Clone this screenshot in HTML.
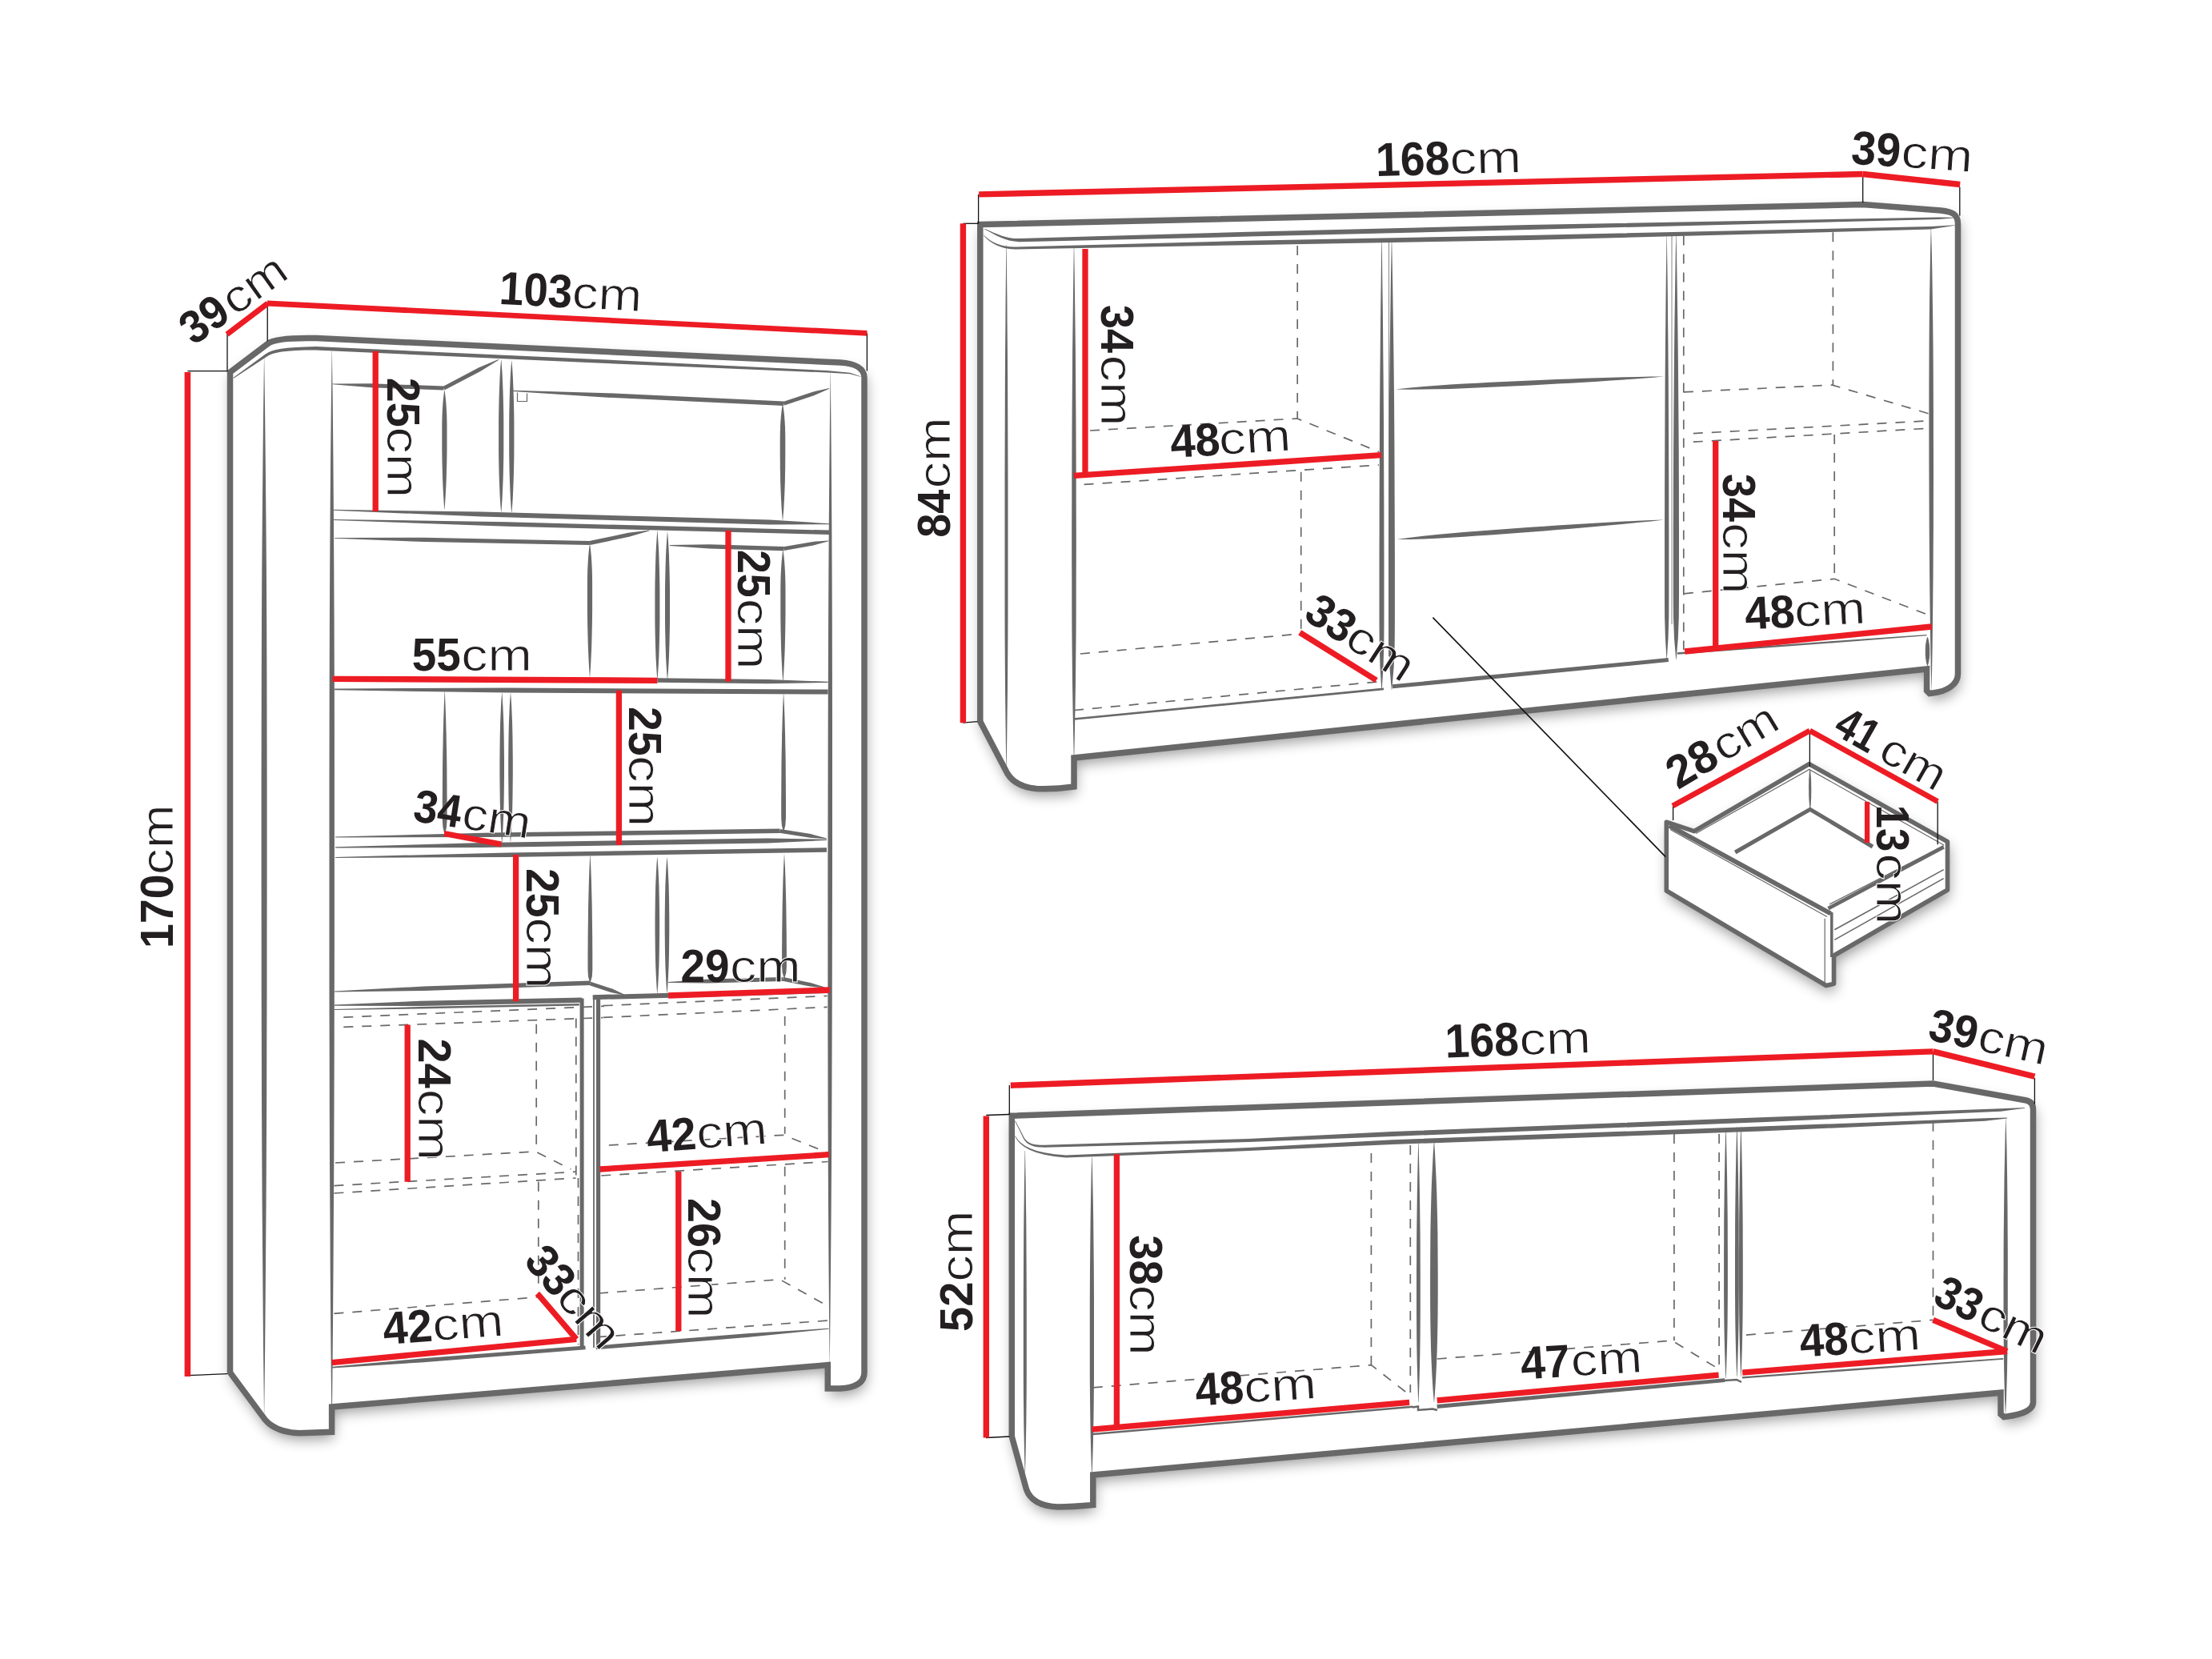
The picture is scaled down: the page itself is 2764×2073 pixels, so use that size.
<!DOCTYPE html>
<html><head><meta charset="utf-8"><title>Furniture dimensions</title>
<style>
html,body{margin:0;padding:0;background:#fff;}
body{width:2764px;height:2073px;overflow:hidden;}
svg{display:block;font-family:"Liberation Sans",sans-serif;}
text{fill:#231f20;}
</style></head><body>
<svg xmlns="http://www.w3.org/2000/svg" width="2764" height="2073" viewBox="0 0 2764 2073">
<defs><filter id="sh" x="-20%" y="-20%" width="140%" height="140%"><feGaussianBlur stdDeviation="8.5"/></filter><filter id="thin" x="-5%" y="-5%" width="110%" height="110%"><feMorphology operator="erode" radius="0.6"/></filter></defs>
<rect width="2764" height="2073" fill="#fff"/>
<path d="M 287.5 1715 L 287.5 465 L 334.6 429.4 C 342 424 365 422 395 422.6 L 1050 453 C 1068 454 1080 460 1080 472 L 1080 1715 C 1080 1728 1068 1734 1050 1735 L 1034.3 1735 L 1034.3 1705.6 L 414.6 1758 L 414.6 1789.3 L 374 1790.8 C 355 1790 340 1784 331.6 1774.4 Z" fill="#000" opacity="0.4" filter="url(#sh)" transform="translate(2,8)"/>
<path d="M 287.5 1715 L 287.5 465 L 334.6 429.4 C 342 424 365 422 395 422.6 L 1050 453 C 1068 454 1080 460 1080 472 L 1080 1715 C 1080 1728 1068 1734 1050 1735 L 1034.3 1735 L 1034.3 1705.6 L 414.6 1758 L 414.6 1789.3 L 374 1790.8 C 355 1790 340 1784 331.6 1774.4 Z" fill="#fff"/>
<polygon points="330,447 329.1,513 328.4,578.9 327.8,644.9 327.3,710.8 327,776.8 326.8,842.7 326.7,908.6 326.6,974.6 326.6,1040.6 326.6,1106.5 326.7,1172.5 326.7,1238.4 326.9,1304.3 327,1370.3 327.3,1436.2 327.6,1502.2 328.1,1568.1 328.6,1634.1 329.2,1700 330,1766 330.2,1766 331,1700 331.6,1634.1 332.1,1568.1 332.6,1502.2 332.9,1436.2 333.2,1370.3 333.3,1304.3 333.5,1238.4 333.5,1172.5 333.6,1106.5 333.6,1040.6 333.6,974.6 333.5,908.6 333.4,842.7 333.2,776.8 332.9,710.8 332.4,644.9 331.8,578.9 331.1,513 330.2,447" fill="#686868"/>
<polygon points="414.7,438 413.8,505.6 413.1,573.2 412.6,640.8 412.2,708.4 411.9,776 411.7,843.6 411.6,911.2 411.5,978.8 411.5,1046.4 411.5,1114 411.5,1181.6 411.5,1249.2 411.7,1316.8 411.8,1384.4 412,1452 412.4,1519.6 412.7,1587.2 413.2,1654.8 413.8,1722.4 414.5,1790 414.7,1790 415.4,1722.4 416,1654.8 416.5,1587.2 416.9,1519.6 417.3,1452 417.5,1384.4 417.7,1316.8 417.8,1249.2 417.9,1181.6 417.9,1114 417.9,1046.4 417.9,978.8 417.9,911.2 417.8,843.6 417.6,776 417.3,708.4 416.9,640.8 416.4,573.2 415.8,505.6 414.9,438" fill="#686868"/>
<polygon points="1037.6,466 1036.9,527.8 1036.3,589.6 1035.8,651.4 1035.4,713.2 1035.1,775 1034.9,836.8 1034.7,898.6 1034.6,960.4 1034.5,1022.2 1034.4,1084 1034.4,1145.8 1034.4,1207.6 1034.4,1269.4 1034.5,1331.2 1034.6,1393 1034.8,1454.8 1035.1,1516.6 1035.5,1578.4 1036,1640.2 1036.6,1702 1036.8,1702 1037.5,1640.2 1038.1,1578.4 1038.6,1516.6 1039,1454.8 1039.3,1393 1039.5,1331.2 1039.7,1269.4 1039.8,1207.6 1039.9,1145.8 1040,1084 1040,1022.2 1040,960.4 1040,898.6 1039.9,836.8 1039.8,775 1039.6,713.2 1039.3,651.4 1038.9,589.6 1038.4,527.8 1037.8,466" fill="#686868"/>
<polygon points="292,472.7 334,445.3 337,443.6 340.8,442.1 345.8,440.7 352.1,439.6 359.9,438.7 369.5,438 381.1,437.6 394.7,437.5 739.9,453.3 1032.9,465.5 1061.9,467.2 1075.2,470.8 1075.4,470.2 1062.1,465.8 1033.1,463.1 740.1,448.7 394.9,433.1 381,433.4 369.3,433.9 359.5,434.7 351.5,435.7 344.9,436.9 339.6,438.5 335.4,440.3 332,442.3 291.4,471.9" fill="#686868"/>
<polygon points="416.3,637.8 602.2,645.5 961.7,655.6 1036.2,655.2 1036.2,654.2 961.9,649.6 602.4,639.5 416.3,636.8" fill="#686868"/>
<polygon points="417,650.1 633.7,657.7 1036.1,668 1036.3,662.6 633.8,652.3 417,648.9" fill="#686868"/>
<polygon points="821.4,852.7 959.9,854.3 1034.6,853 1034.6,851.8 960,848.9 821.4,847.3" fill="#686868"/>
<polygon points="418,862.3 633.8,865.5 1034.6,867.6 1034.6,861.6 633.8,859.5 418,860.5" fill="#686868"/>
<polygon points="419,1059.5 603.2,1059 959.4,1053.5 1033,1050 1033,1048.8 959.3,1047.5 603.2,1053.1 419,1058.3" fill="#686868"/>
<polygon points="419,1072.1 633.9,1070.9 1033,1064.7 1033,1059.3 633.9,1065.5 419,1070.9" fill="#686868"/>
<polygon points="415.5,480.3 464.1,484.2 554.5,487.6 554.7,482.6 464.3,479.2 415.5,479.5" fill="#686868"/>
<polygon points="555.8,487.3 600.2,464.1 623.2,449.7 622.8,448.9 597.9,459.6 553.4,482.9" fill="#686868"/>
<polygon points="555.2,487.5 554.3,494.9 553.5,502.4 553,509.9 552.6,517.3 552.4,524.8 552.3,532.2 552.3,539.6 552.3,547.1 552.3,554.5 552.3,562 552.4,569.5 552.5,576.9 552.7,584.4 552.9,591.8 553.1,599.2 553.4,606.7 553.8,614.1 554.2,621.6 554.7,629 555.2,636.5 555.5,636.5 556.1,629 556.6,621.6 557,614.1 557.4,606.7 557.7,599.2 557.9,591.8 558.1,584.4 558.3,576.9 558.4,569.5 558.5,562 558.5,554.5 558.5,547.1 558.5,539.6 558.5,532.2 558.4,524.8 558.2,517.3 557.8,509.9 557.3,502.4 556.5,494.9 555.5,487.5" fill="#686868"/>
<polygon points="626.1,450 625.3,459.5 624.7,469 624.3,478.5 623.9,487.9 623.6,497.4 623.4,506.9 623.2,516.4 623.1,525.9 623.1,535.4 623.1,544.9 623.1,554.3 623.1,563.8 623.2,573.3 623.4,582.8 623.6,592.3 623.9,601.8 624.3,611.2 624.7,620.7 625.3,630.2 626.1,639.7 626.4,639.7 627.1,630.2 627.7,620.7 628.1,611.2 628.5,601.8 628.8,592.3 629,582.8 629.2,573.3 629.3,563.8 629.3,554.3 629.3,544.9 629.3,535.4 629.3,525.9 629.2,516.4 629,506.9 628.8,497.4 628.5,487.9 628.1,478.5 627.7,469 627.1,459.5 626.4,450" fill="#686868"/>
<polygon points="639.1,451 638.4,460.5 637.8,469.9 637.4,479.4 637,488.9 636.7,498.4 636.5,507.9 636.3,517.3 636.2,526.8 636.2,536.3 636.2,545.8 636.2,555.2 636.2,564.7 636.3,574.2 636.5,583.6 636.7,593.1 637,602.6 637.4,612.1 637.8,621.5 638.4,631 639.1,640.5 639.4,640.5 640.2,631 640.8,621.5 641.2,612.1 641.6,602.6 641.9,593.1 642.1,583.6 642.3,574.2 642.4,564.7 642.4,555.2 642.4,545.8 642.4,536.3 642.4,526.8 642.3,517.3 642.1,507.9 641.9,498.4 641.6,488.9 641.2,479.4 640.8,469.9 640.2,460.5 639.4,451" fill="#686868"/>
<polygon points="640.9,489 759.2,496.7 979.2,507 979.4,501.4 759.5,491.2 640.9,487.8" fill="#686868"/>
<polygon points="980.1,506.5 1017,494.3 1036.3,485.7 1036.1,485.1 1015.5,489.7 978.5,501.9" fill="#686868"/>
<polygon points="977.9,504.5 976.8,511.8 976,519.1 975.4,526.4 975,533.7 974.8,541 974.7,548.3 974.7,555.6 974.7,562.9 974.7,570.2 974.8,577.5 974.8,584.9 975,592.2 975.1,599.5 975.3,606.8 975.6,614.1 975.9,621.4 976.3,628.7 976.7,636 977.3,643.3 977.9,650.6 978.1,650.6 978.7,643.3 979.3,636 979.7,628.7 980.1,621.4 980.4,614.1 980.7,606.8 980.9,599.5 981,592.2 981.2,584.9 981.2,577.5 981.3,570.2 981.3,562.9 981.3,555.6 981.3,548.3 981.2,541 981,533.7 980.6,526.4 980,519.1 979.2,511.8 978.1,504.5" fill="#686868"/>
<polyline points="646.5,490.5 646.5,501.5 658.5,501.5 658.5,491.5" fill="none" stroke="#686868" stroke-width="1.2" stroke-linejoin="miter"/>
<polygon points="418,672.7 529.6,677.1 736.9,681.1 737.1,675.9 529.7,671.8 418,671.9" fill="#686868"/>
<polygon points="737.5,681 786,670.8 811.7,663.2 811.5,662.4 785,665.8 736.5,676" fill="#686868"/>
<polygon points="736.9,679 735.9,687.4 735.1,695.7 734.6,704 734.2,712.4 734,720.8 733.9,729.1 733.9,737.5 733.9,745.8 733.9,754.1 733.9,762.5 734,770.9 734.1,779.2 734.3,787.5 734.5,795.9 734.7,804.2 735,812.6 735.4,821 735.8,829.3 736.3,837.6 736.9,846 737.1,846 737.7,837.6 738.2,829.3 738.6,821 739,812.6 739.3,804.2 739.5,795.9 739.7,787.5 739.9,779.2 740,770.9 740.1,762.5 740.1,754.1 740.1,745.8 740.1,737.5 740.1,729.1 740,720.8 739.8,712.4 739.4,704 738.9,695.7 738.1,687.4 737.1,679" fill="#686868"/>
<polygon points="821.2,663.6 820.6,672.9 820,682.1 819.5,691.4 819.2,700.7 818.9,710 818.7,719.2 818.5,728.5 818.4,737.8 818.4,747 818.4,756.3 818.4,765.6 818.4,774.8 818.5,784.1 818.7,793.4 818.9,802.6 819.2,811.9 819.5,821.2 820,830.5 820.6,839.7 821.2,849 821.5,849 822.2,839.7 822.8,830.5 823.3,821.2 823.6,811.9 823.9,802.6 824.1,793.4 824.3,784.1 824.4,774.8 824.4,765.6 824.4,756.3 824.4,747 824.4,737.8 824.3,728.5 824.1,719.2 823.9,710 823.6,700.7 823.3,691.4 822.8,682.1 822.2,672.9 821.5,663.6" fill="#686868"/>
<polygon points="833.9,664.4 833.2,673.7 832.6,682.9 832.1,692.2 831.8,701.4 831.5,710.7 831.3,719.9 831.1,729.2 831,738.4 831,747.7 831,757 831,766.2 831,775.5 831.1,784.7 831.3,794 831.5,803.2 831.8,812.5 832.1,821.7 832.6,831 833.2,840.2 833.9,849.5 834.1,849.5 834.8,840.2 835.4,831 835.9,821.7 836.2,812.5 836.5,803.2 836.7,794 836.9,784.7 837,775.5 837,766.2 837,757 837,747.7 837,738.4 836.9,729.2 836.7,719.9 836.5,710.7 836.2,701.4 835.9,692.2 835.4,682.9 834.8,673.7 834.1,664.4" fill="#686868"/>
<polygon points="836.8,681.9 886.6,685.6 979.2,688.2 979.4,683 886.8,680.3 836.8,681.1" fill="#686868"/>
<polygon points="979.7,688 1016.2,681.6 1035.5,676.2 1035.3,675.4 1015.4,676.9 978.9,683.2" fill="#686868"/>
<polygon points="978.2,687 977.3,695.2 976.5,703.5 976,711.7 975.6,719.9 975.4,728.1 975.3,736.4 975.3,744.6 975.3,752.8 975.3,761.1 975.3,769.3 975.4,777.5 975.5,785.8 975.7,794 975.9,802.2 976.1,810.5 976.4,818.7 976.8,826.9 977.2,835.1 977.7,843.4 978.2,851.6 978.5,851.6 979.1,843.4 979.6,835.1 980,826.9 980.4,818.7 980.7,810.5 980.9,802.2 981.1,794 981.3,785.8 981.4,777.5 981.5,769.3 981.5,761.1 981.5,752.8 981.5,744.6 981.5,736.4 981.4,728.1 981.2,719.9 980.8,711.7 980.3,703.5 979.5,695.2 978.5,687" fill="#686868"/>
<polygon points="555.6,864 555.2,873 554.8,881.9 554.5,890.9 554.2,899.8 554,908.8 553.7,917.7 553.6,926.6 553.4,935.6 553.2,944.5 553.1,953.5 553,962.5 553,971.4 552.9,980.4 552.9,989.3 552.8,998.2 552.8,1007.2 552.8,1016.1 552.8,1025.1 553.5,1034 555.6,1043 555.9,1043 557.9,1034 558.6,1025.1 558.6,1016.1 558.6,1007.2 558.6,998.2 558.5,989.3 558.5,980.4 558.4,971.4 558.4,962.5 558.3,953.5 558.2,944.5 558,935.6 557.8,926.6 557.7,917.7 557.4,908.8 557.2,899.8 556.9,890.9 556.6,881.9 556.2,873 555.9,864" fill="#686868"/>
<polygon points="627.1,866 626.4,875.4 625.9,884.7 625.5,894 625.1,903.4 624.9,912.8 624.7,922.1 624.6,931.5 624.5,940.8 624.4,950.1 624.4,959.5 624.4,968.9 624.5,978.2 624.6,987.5 624.7,996.9 624.9,1006.2 625.1,1015.6 625.5,1025 625.9,1034.3 626.4,1043.7 627.1,1053 627.4,1053 628,1043.7 628.5,1034.3 628.9,1025 629.3,1015.6 629.5,1006.2 629.7,996.9 629.8,987.5 629.9,978.2 630,968.9 630,959.5 630,950.1 629.9,940.8 629.8,931.5 629.7,922.1 629.5,912.8 629.3,903.4 628.9,894 628.5,884.7 628,875.4 627.4,866" fill="#686868"/>
<polygon points="637.9,866 637.2,875.3 636.7,884.6 636.3,893.9 635.9,903.2 635.7,912.5 635.5,921.8 635.4,931.1 635.3,940.4 635.2,949.7 635.2,959 635.2,968.3 635.3,977.6 635.4,986.9 635.5,996.2 635.7,1005.5 635.9,1014.8 636.3,1024.1 636.7,1033.4 637.2,1042.7 637.9,1052 638.1,1052 638.8,1042.7 639.3,1033.4 639.7,1024.1 640.1,1014.8 640.3,1005.5 640.5,996.2 640.6,986.9 640.7,977.6 640.8,968.3 640.8,959 640.8,949.7 640.7,940.4 640.6,931.1 640.5,921.8 640.3,912.5 640.1,903.2 639.7,893.9 639.3,884.6 638.8,875.3 638.1,866" fill="#686868"/>
<polygon points="979,866 978.6,874.7 978.2,883.4 977.9,892.1 977.6,900.8 977.4,909.5 977.1,918.2 977,926.9 976.8,935.6 976.6,944.3 976.5,953 976.4,961.7 976.4,970.4 976.3,979.1 976.3,987.8 976.2,996.5 976.2,1005.2 976.2,1013.9 976.2,1022.6 976.9,1031.3 979,1040 979.2,1040 981.3,1031.3 982,1022.6 982,1013.9 982,1005.2 982,996.5 981.9,987.8 981.9,979.1 981.8,970.4 981.8,961.7 981.7,953 981.6,944.3 981.4,935.6 981.2,926.9 981.1,918.2 980.8,909.5 980.6,900.8 980.3,892.1 980,883.4 979.6,874.7 979.2,866" fill="#686868"/>
<polygon points="419,1046.5 613.4,1046.1 974.4,1041.1 974.4,1035.5 613.4,1040.5 419,1045.5" fill="#686868"/>
<polygon points="974,1040.7 1012.1,1046.8 1032.9,1048.2 1033.1,1047.4 1012.9,1042.1 974.8,1035.9" fill="#686868"/>
<polygon points="737.2,1068.5 736.9,1076.5 736.5,1084.5 736.2,1092.5 735.9,1100.4 735.7,1108.4 735.5,1116.4 735.3,1124.4 735.1,1132.4 735,1140.4 734.9,1148.3 734.8,1156.3 734.7,1164.3 734.6,1172.3 734.6,1180.3 734.5,1188.3 734.5,1196.3 734.5,1204.2 734.5,1212.2 735,1220.2 737.2,1228.2 737.5,1228.2 739.8,1220.2 740.3,1212.2 740.3,1204.2 740.3,1196.3 740.3,1188.3 740.2,1180.3 740.2,1172.3 740.1,1164.3 740,1156.3 739.9,1148.3 739.8,1140.4 739.7,1132.4 739.5,1124.4 739.3,1116.4 739.1,1108.4 738.9,1100.4 738.6,1092.5 738.3,1084.5 737.9,1076.5 737.5,1068.5" fill="#686868"/>
<polygon points="821.1,1071.5 820.5,1080 820,1088.5 819.6,1096.9 819.2,1105.4 819,1113.9 818.8,1122.3 818.7,1130.8 818.6,1139.3 818.5,1147.8 818.5,1156.2 818.5,1164.7 818.6,1173.2 818.7,1181.7 818.8,1190.2 819,1198.6 819.2,1207.1 819.6,1215.6 820,1224 820.5,1232.5 821.1,1241 821.4,1241 822.1,1232.5 822.6,1224 823,1215.6 823.4,1207.1 823.6,1198.6 823.8,1190.2 823.9,1181.7 824,1173.2 824.1,1164.7 824.1,1156.2 824.1,1147.8 824,1139.3 823.9,1130.8 823.8,1122.3 823.6,1113.9 823.4,1105.4 823,1096.9 822.6,1088.5 822.1,1080 821.4,1071.5" fill="#686868"/>
<polygon points="833.4,1071.5 832.7,1080 832.2,1088.5 831.8,1096.9 831.4,1105.4 831.2,1113.9 831,1122.3 830.9,1130.8 830.8,1139.3 830.7,1147.8 830.7,1156.2 830.7,1164.7 830.8,1173.2 830.9,1181.7 831,1190.2 831.2,1198.6 831.4,1207.1 831.8,1215.6 832.2,1224 832.7,1232.5 833.4,1241 833.6,1241 834.3,1232.5 834.8,1224 835.2,1215.6 835.6,1207.1 835.8,1198.6 836,1190.2 836.1,1181.7 836.2,1173.2 836.3,1164.7 836.3,1156.2 836.3,1147.8 836.2,1139.3 836.1,1130.8 836,1122.3 835.8,1113.9 835.6,1105.4 835.2,1096.9 834.8,1088.5 834.3,1080 833.6,1071.5" fill="#686868"/>
<polygon points="979.9,1067.5 979.5,1075.3 979.1,1083 978.8,1090.8 978.5,1098.6 978.3,1106.4 978.1,1114.2 977.9,1121.9 977.7,1129.7 977.6,1137.5 977.5,1145.2 977.4,1153 977.3,1160.8 977.2,1168.6 977.2,1176.3 977.1,1184.1 977.1,1191.9 977.1,1199.7 977.1,1207.5 977.6,1215.2 979.9,1223 980.1,1223 982.4,1215.2 982.9,1207.5 982.9,1199.7 982.9,1191.9 982.9,1184.1 982.8,1176.3 982.8,1168.6 982.7,1160.8 982.6,1153 982.5,1145.2 982.4,1137.5 982.3,1129.7 982.1,1121.9 981.9,1114.2 981.7,1106.4 981.5,1098.6 981.2,1090.8 980.9,1083 980.5,1075.3 980.1,1067.5" fill="#686868"/>
<polygon points="417.9,1239.5 529.8,1238 737.5,1231 737.3,1225.4 529.6,1232.5 417.9,1238.5" fill="#686868"/>
<polygon points="736.7,1231.3 764.2,1240.3 779.7,1243.2 779.9,1242.6 765.7,1235.8 738.1,1226.7" fill="#686868"/>
<polygon points="835.1,1227.9 885.3,1228.5 978.4,1225.9 978.2,1220.9 885.1,1223.5 835.1,1226.9" fill="#686868"/>
<polygon points="977.8,1225.8 1011.7,1232.6 1030.3,1234.4 1030.5,1233.6 1012.6,1227.9 978.8,1221" fill="#686868"/>
<polygon points="417.9,1256.8 526.2,1257 727.2,1252.7 727,1246.5 526.1,1250.8 417.9,1255.6" fill="#686868"/>
<line x1="727.1" y1="1247.5" x2="727.1" y2="1684" stroke="#686868" stroke-width="5" stroke-linecap="butt"/>
<polygon points="417.9,1261.9 525,1260.5 723.9,1256.5 723.9,1254.1 525,1258.1 417.9,1261.1" fill="#686868"/>
<line x1="747.6" y1="1243.5" x2="747.6" y2="1684" stroke="#686868" stroke-width="5.2" stroke-linecap="butt"/>
<line x1="742" y1="1246" x2="742" y2="1684" stroke="#686868" stroke-width="1.8" stroke-linecap="butt"/>
<polygon points="740.8,1249.2 933.3,1244.2 1037,1240.9 1036.8,1236.1 933.2,1238.2 740.6,1243.2" fill="#686868"/>
<polygon points="415.2,1709.6 526,1702.4 731.7,1686.3 731.3,1681.5 525.7,1697.6 415,1707.8" fill="#686868"/>
<polygon points="744.9,1686.3 933.9,1671 1035.5,1660.8 1035.5,1659.8 933.5,1666.2 744.5,1681.5" fill="#686868"/>
<line x1="429.3" y1="1271.1" x2="754.8" y2="1257.3" stroke="#686868" stroke-width="1.7" stroke-dasharray="12 11" stroke-dashoffset="0"/>
<line x1="429.3" y1="1283.3" x2="753.2" y2="1271.6" stroke="#686868" stroke-width="1.7" stroke-dasharray="12 11" stroke-dashoffset="0"/>
<line x1="670.2" y1="1279.8" x2="670.2" y2="1438.9" stroke="#686868" stroke-width="1.7" stroke-dasharray="12 11" stroke-dashoffset="0"/>
<line x1="719.8" y1="1272.5" x2="719.8" y2="1470.5" stroke="#686868" stroke-width="1.7" stroke-dasharray="12 11" stroke-dashoffset="0"/>
<polyline points="419,1453 669,1438.9 713.3,1461" fill="none" stroke="#686868" stroke-width="1.7" stroke-dasharray="12 11"/>
<line x1="417.4" y1="1481.6" x2="719.6" y2="1464.2" stroke="#686868" stroke-width="1.7" stroke-dasharray="12 11" stroke-dashoffset="0"/>
<line x1="417.4" y1="1491" x2="719.6" y2="1472" stroke="#686868" stroke-width="1.7" stroke-dasharray="12 11" stroke-dashoffset="0"/>
<line x1="672.8" y1="1476.8" x2="672.8" y2="1619" stroke="#686868" stroke-width="1.7" stroke-dasharray="12 11" stroke-dashoffset="0"/>
<line x1="722.5" y1="1472" x2="722.5" y2="1680" stroke="#686868" stroke-width="1.7" stroke-dasharray="12 11" stroke-dashoffset="0"/>
<line x1="417.4" y1="1641.4" x2="672" y2="1620.8" stroke="#686868" stroke-width="1.7" stroke-dasharray="12 11" stroke-dashoffset="0"/>
<line x1="753.7" y1="1256.7" x2="1033.7" y2="1244.5" stroke="#686868" stroke-width="1.7" stroke-dasharray="12 11" stroke-dashoffset="0"/>
<line x1="753.7" y1="1271.4" x2="1033.7" y2="1258.4" stroke="#686868" stroke-width="1.7" stroke-dasharray="12 11" stroke-dashoffset="0"/>
<line x1="980.7" y1="1269.8" x2="980.7" y2="1416.7" stroke="#686868" stroke-width="1.7" stroke-dasharray="12 11" stroke-dashoffset="0"/>
<polyline points="760.8,1431 979,1418.3 1034.5,1440.4" fill="none" stroke="#686868" stroke-width="1.7" stroke-dasharray="12 11"/>
<line x1="751.3" y1="1469" x2="1034.5" y2="1451.5" stroke="#686868" stroke-width="1.7" stroke-dasharray="12 11" stroke-dashoffset="0"/>
<line x1="980.7" y1="1457.8" x2="980.7" y2="1598.7" stroke="#686868" stroke-width="1.7" stroke-dasharray="12 11" stroke-dashoffset="0"/>
<polyline points="748,1616 974.4,1598.7 1034.5,1632" fill="none" stroke="#686868" stroke-width="1.7" stroke-dasharray="12 11"/>
<line x1="746.5" y1="1670.7" x2="1035.5" y2="1650" stroke="#686868" stroke-width="1.7" stroke-dasharray="12 11" stroke-dashoffset="0"/>
<path d="M 287.5 1715 L 287.5 465 L 334.6 429.4 C 342 424 365 422 395 422.6 L 1050 453 C 1068 454 1080 460 1080 472 L 1080 1715 C 1080 1728 1068 1734 1050 1735 L 1034.3 1735 L 1034.3 1705.6 L 414.6 1758 L 414.6 1789.3 L 374 1790.8 C 355 1790 340 1784 331.6 1774.4 Z" fill="none" stroke="#686868" stroke-width="7.5" stroke-linejoin="miter" stroke-linecap="butt" />
<line x1="234.4" y1="463.7" x2="284.5" y2="463.7" stroke="#111" stroke-width="1.3" stroke-linecap="butt"/>
<line x1="284" y1="417.2" x2="284" y2="463.7" stroke="#111" stroke-width="1.3" stroke-linecap="butt"/>
<line x1="334.2" y1="379" x2="334.2" y2="426.2" stroke="#111" stroke-width="1.3" stroke-linecap="butt"/>
<line x1="1083.4" y1="416.3" x2="1083.4" y2="463.5" stroke="#111" stroke-width="1.3" stroke-linecap="butt"/>
<line x1="234.4" y1="1718.7" x2="284" y2="1716.7" stroke="#111" stroke-width="1.3" stroke-linecap="butt"/>
<line x1="234.4" y1="465" x2="234.4" y2="1720" stroke="#ed1c24" stroke-width="7.6" stroke-linecap="butt"/>
<line x1="283.6" y1="417.8" x2="334.6" y2="379" stroke="#ed1c24" stroke-width="7" stroke-linecap="butt"/>
<line x1="333.8" y1="379" x2="1083.4" y2="416.3" stroke="#ed1c24" stroke-width="6.8" stroke-linecap="butt"/>
<line x1="469.2" y1="438.7" x2="469.2" y2="638.9" stroke="#ed1c24" stroke-width="7.3" stroke-linecap="butt"/>
<line x1="415.5" y1="848.3" x2="821.4" y2="850.3" stroke="#ed1c24" stroke-width="7.3" stroke-linecap="butt"/>
<line x1="910" y1="662.8" x2="910" y2="851.6" stroke="#ed1c24" stroke-width="7.3" stroke-linecap="butt"/>
<line x1="555" y1="1041.5" x2="626.3" y2="1055" stroke="#ed1c24" stroke-width="7" stroke-linecap="butt"/>
<line x1="773.4" y1="862.7" x2="773.4" y2="1055.7" stroke="#ed1c24" stroke-width="7.3" stroke-linecap="butt"/>
<line x1="644.6" y1="1068" x2="644.6" y2="1251.3" stroke="#ed1c24" stroke-width="7.3" stroke-linecap="butt"/>
<line x1="835.1" y1="1244" x2="1036.9" y2="1237" stroke="#ed1c24" stroke-width="7.3" stroke-linecap="butt"/>
<line x1="509.2" y1="1280.6" x2="509.2" y2="1476.8" stroke="#ed1c24" stroke-width="7.3" stroke-linecap="butt"/>
<line x1="749.7" y1="1461" x2="1036" y2="1442.7" stroke="#ed1c24" stroke-width="7.3" stroke-linecap="butt"/>
<line x1="847.8" y1="1464" x2="847.8" y2="1663.2" stroke="#ed1c24" stroke-width="7.3" stroke-linecap="butt"/>
<line x1="414.6" y1="1702.6" x2="720.3" y2="1673.4" stroke="#ed1c24" stroke-width="7.3" stroke-linecap="butt"/>
<line x1="720.3" y1="1673.4" x2="671.5" y2="1616.3" stroke="#ed1c24" stroke-width="7.3" stroke-linecap="butt"/>
<g transform="translate(216,1181.5) rotate(-90)"><text x="-3.5" y="0" font-size="57.7" font-weight="bold" textLength="92.6" lengthAdjust="spacingAndGlyphs">170</text><text x="88.6" y="0" font-size="56.6" textLength="87.5" lengthAdjust="spacingAndGlyphs" stroke="#fff" stroke-width="0.9">cm</text></g>
<g transform="translate(242.6,431.8) rotate(-35.4)"><text x="-1.2" y="0" font-size="57.7" font-weight="bold" textLength="60.3" lengthAdjust="spacingAndGlyphs">39</text><text x="62.3" y="0" font-size="56.6" textLength="86" lengthAdjust="spacingAndGlyphs" stroke="#fff" stroke-width="0.9">cm</text></g>
<g transform="translate(626.5,379.9) rotate(3)"><text x="-3.4" y="0" font-size="58.4" font-weight="bold" textLength="91.2" lengthAdjust="spacingAndGlyphs">103</text><text x="87.6" y="0" font-size="56.6" textLength="87.4" lengthAdjust="spacingAndGlyphs" stroke="#fff" stroke-width="0.9">cm</text></g>
<g transform="translate(483.8,473.7) rotate(90)"><text x="-2" y="0" font-size="57.7" font-weight="bold" textLength="62.1" lengthAdjust="spacingAndGlyphs">25</text><text x="59.9" y="0" font-size="56.6" textLength="88.5" lengthAdjust="spacingAndGlyphs" stroke="#fff" stroke-width="0.9">cm</text></g>
<g transform="translate(516.4,837.8) rotate(0)"><text x="-1.7" y="0" font-size="57.7" font-weight="bold" textLength="61" lengthAdjust="spacingAndGlyphs">55</text><text x="59.8" y="0" font-size="56.6" textLength="88.6" lengthAdjust="spacingAndGlyphs" stroke="#fff" stroke-width="0.9">cm</text></g>
<g transform="translate(921.5,688.8) rotate(90)"><text x="-1.9" y="0" font-size="57.7" font-weight="bold" textLength="59.6" lengthAdjust="spacingAndGlyphs">25</text><text x="59.1" y="0" font-size="56.6" textLength="88.5" lengthAdjust="spacingAndGlyphs" stroke="#fff" stroke-width="0.9">cm</text></g>
<g transform="translate(516,1025.6) rotate(8.8)"><text x="-1.2" y="0" font-size="57.7" font-weight="bold" textLength="59.8" lengthAdjust="spacingAndGlyphs">34</text><text x="60" y="0" font-size="56.6" textLength="86.2" lengthAdjust="spacingAndGlyphs" stroke="#fff" stroke-width="0.9">cm</text></g>
<g transform="translate(786,884.8) rotate(90)"><text x="-1.9" y="0" font-size="57.7" font-weight="bold" textLength="61.5" lengthAdjust="spacingAndGlyphs">25</text><text x="59.2" y="0" font-size="56.6" textLength="89.2" lengthAdjust="spacingAndGlyphs" stroke="#fff" stroke-width="0.9">cm</text></g>
<g transform="translate(658,1087) rotate(90)"><text x="-1.9" y="0" font-size="57.7" font-weight="bold" textLength="61.5" lengthAdjust="spacingAndGlyphs">25</text><text x="59.2" y="0" font-size="56.6" textLength="89.2" lengthAdjust="spacingAndGlyphs" stroke="#fff" stroke-width="0.9">cm</text></g>
<g transform="translate(852.5,1226.6) rotate(0)"><text x="-1.9" y="0" font-size="57.7" font-weight="bold" textLength="61" lengthAdjust="spacingAndGlyphs">29</text><text x="59.5" y="0" font-size="56.6" textLength="88.6" lengthAdjust="spacingAndGlyphs" stroke="#fff" stroke-width="0.9">cm</text></g>
<g transform="translate(523.4,1299.6) rotate(90)"><text x="-2" y="0" font-size="57.7" font-weight="bold" textLength="62.2" lengthAdjust="spacingAndGlyphs">24</text><text x="61.2" y="0" font-size="56.6" textLength="89.2" lengthAdjust="spacingAndGlyphs" stroke="#fff" stroke-width="0.9">cm</text></g>
<g transform="translate(810.4,1440.2) rotate(-4.4)"><text x="-0.8" y="0" font-size="57.7" font-weight="bold" textLength="61.8" lengthAdjust="spacingAndGlyphs">42</text><text x="61.2" y="0" font-size="56.6" textLength="88.8" lengthAdjust="spacingAndGlyphs" stroke="#fff" stroke-width="0.9">cm</text></g>
<g transform="translate(860.4,1499) rotate(90)"><text x="-1.9" y="0" font-size="57.7" font-weight="bold" textLength="62" lengthAdjust="spacingAndGlyphs">26</text><text x="59.2" y="0" font-size="56.6" textLength="89.2" lengthAdjust="spacingAndGlyphs" stroke="#fff" stroke-width="0.9">cm</text></g>
<g transform="translate(480.7,1680.2) rotate(-4.4)"><text x="-0.8" y="0" font-size="57.7" font-weight="bold" textLength="61.8" lengthAdjust="spacingAndGlyphs">42</text><text x="61.2" y="0" font-size="56.6" textLength="88.8" lengthAdjust="spacingAndGlyphs" stroke="#fff" stroke-width="0.9">cm</text></g>
<g transform="translate(654,1578) rotate(49)"><text x="-1.3" y="0" font-size="57.7" font-weight="bold" textLength="61.3" lengthAdjust="spacingAndGlyphs">33</text><text x="59.2" y="0" font-size="56.6" textLength="89.2" lengthAdjust="spacingAndGlyphs" stroke="#fff" stroke-width="0.9">cm</text></g>
<path d="M 1224.8 280.5 L 2327.7 255.5 L 2425 263 C 2440 264.5 2446.5 268 2446.5 280 L 2446.5 842 C 2446.5 856 2432 864 2415 866 L 2411 866.5 L 2407.6 863 L 2407.6 836 L 1342 947 L 1342 983 C 1325 985.5 1310 986 1295 985.5 C 1278 984 1265 977 1258.5 966 L 1224.8 901.6 Z" fill="#000" opacity="0.4" filter="url(#sh)" transform="translate(2,8)"/>
<path d="M 1224.8 280.5 L 2327.7 255.5 L 2425 263 C 2440 264.5 2446.5 268 2446.5 280 L 2446.5 842 C 2446.5 856 2432 864 2415 866 L 2411 866.5 L 2407.6 863 L 2407.6 836 L 1342 947 L 1342 983 C 1325 985.5 1310 986 1295 985.5 C 1278 984 1265 977 1258.5 966 L 1224.8 901.6 Z" fill="#fff"/>
<polygon points="1257.3,306 1257,338.6 1256.6,371.2 1256.4,403.8 1256.1,436.4 1255.9,469 1255.8,501.6 1255.7,534.2 1255.6,566.8 1255.5,599.4 1255.5,632 1255.5,664.6 1255.5,697.2 1255.5,729.8 1255.5,762.4 1255.6,795 1255.8,827.6 1256,860.2 1256.4,892.8 1256.8,925.4 1257.3,958 1257.7,958 1258.2,925.4 1258.6,892.8 1259,860.2 1259.2,827.6 1259.4,795 1259.5,762.4 1259.5,729.8 1259.5,697.2 1259.5,664.6 1259.5,632 1259.5,599.4 1259.4,566.8 1259.3,534.2 1259.2,501.6 1259.1,469 1258.9,436.4 1258.6,403.8 1258.4,371.2 1258,338.6 1257.7,306" fill="#686868"/>
<polygon points="1341.8,310 1341.3,341.9 1340.9,373.8 1340.5,405.7 1340.1,437.6 1339.9,469.5 1339.7,501.4 1339.5,533.3 1339.4,565.2 1339.3,597.1 1339.3,629 1339.2,660.9 1339.2,692.8 1339.3,724.7 1339.3,756.6 1339.4,788.5 1339.7,820.4 1340,852.3 1340.5,884.2 1341.1,916.1 1341.8,948 1342.2,948 1342.9,916.1 1343.5,884.2 1344,852.3 1344.3,820.4 1344.6,788.5 1344.7,756.6 1344.7,724.7 1344.8,692.8 1344.8,660.9 1344.7,629 1344.7,597.1 1344.6,565.2 1344.5,533.3 1344.3,501.4 1344.1,469.5 1343.9,437.6 1343.5,405.7 1343.1,373.8 1342.7,341.9 1342.2,310" fill="#686868"/>
<polygon points="1229.8,286.3 1235.2,289.1 1240.3,291.8 1245.3,294.4 1250.4,296.7 1255.6,298.8 1261.1,300.4 1267.1,301.6 1273.7,302.3 1560.1,295.6 1910.1,287 2423,274 2443,272.3 2443,271.7 2423,271.6 1909.9,281 1559.9,289.8 1273.5,298.1 1267.5,297.9 1261.8,297.2 1256.4,296 1251.3,294.4 1246.2,292.5 1241,290.4 1235.7,288.1 1230.2,285.7" fill="#686868"/>
<polygon points="1229.1,294.6 1232.4,297.8 1236.1,300.9 1240.2,303.7 1244.8,306.2 1249.8,308.3 1255.3,309.9 1261.4,311 1268,311.6 1560.1,306.2 1910.1,300 2412.4,286.6 2442.7,281.8 2442.7,281.2 2412.2,283 1909.9,294 1559.9,300.8 1268,308.6 1261.7,308.3 1255.8,307.5 1250.5,306.2 1245.5,304.5 1241,302.4 1236.9,299.9 1233,297.1 1229.5,294" fill="#686868"/>
<line x1="1621.2" y1="307" x2="1621.2" y2="523" stroke="#686868" stroke-width="1.7" stroke-dasharray="12 11" stroke-dashoffset="0"/>
<polyline points="1362,538 1621,523 1723,564.6" fill="none" stroke="#686868" stroke-width="1.7" stroke-dasharray="12 11"/>
<line x1="1354.6" y1="605.4" x2="1723" y2="581" stroke="#686868" stroke-width="1.7" stroke-dasharray="12 11" stroke-dashoffset="0"/>
<line x1="1625.7" y1="589.7" x2="1625.7" y2="788.8" stroke="#686868" stroke-width="1.7" stroke-dasharray="12 11" stroke-dashoffset="0"/>
<line x1="1349.9" y1="817" x2="1624.2" y2="792" stroke="#686868" stroke-width="1.7" stroke-dasharray="12 11" stroke-dashoffset="0"/>
<line x1="1342" y1="887.5" x2="1726" y2="851.5" stroke="#686868" stroke-width="1.7" stroke-dasharray="12 11" stroke-dashoffset="0"/>
<polygon points="1342.1,899.8 1729.1,862.2 1728.9,859.6 1341.9,897.2" fill="#686868"/>
<polygon points="1726.3,300 1725.9,328.1 1725.6,356.2 1725.2,384.3 1724.9,412.4 1724.7,440.5 1724.4,468.6 1724.2,496.7 1724,524.8 1723.9,552.9 1723.8,581 1723.7,609.1 1723.6,637.2 1723.6,665.3 1723.5,693.4 1723.5,721.5 1723.5,749.6 1723.5,777.7 1723.7,805.8 1724.5,833.9 1726.3,862 1726.7,862 1728.5,833.9 1729.3,805.8 1729.5,777.7 1729.5,749.6 1729.5,721.5 1729.5,693.4 1729.4,665.3 1729.4,637.2 1729.3,609.1 1729.2,581 1729.1,552.9 1729,524.8 1728.8,496.7 1728.6,468.6 1728.3,440.5 1728.1,412.4 1727.8,384.3 1727.4,356.2 1727.1,328.1 1726.7,300" fill="#686868"/>
<polygon points="1738.8,300 1738.3,328.1 1737.8,356.2 1737.4,384.3 1737,412.4 1736.6,440.5 1736.3,468.6 1736,496.7 1735.8,524.8 1735.6,552.9 1735.5,581 1735.4,609.1 1735.3,637.2 1735.2,665.3 1735.1,693.4 1735.1,721.5 1735.1,749.6 1735.1,777.7 1735.3,805.8 1736.4,833.9 1738.8,862 1739.2,862 1741.6,833.9 1742.7,805.8 1742.9,777.7 1742.9,749.6 1742.9,721.5 1742.9,693.4 1742.8,665.3 1742.7,637.2 1742.6,609.1 1742.5,581 1742.4,552.9 1742.2,524.8 1742,496.7 1741.7,468.6 1741.4,440.5 1741,412.4 1740.6,384.3 1740.2,356.2 1739.7,328.1 1739.2,300" fill="#686868"/>
<line x1="1735.5" y1="300" x2="1735.5" y2="820" stroke="#686868" stroke-width="0.8" stroke-linecap="butt"/>
<polygon points="1745.3,486.5 1762.1,486.7 1778.8,486.6 1795.5,486.3 1812.3,485.9 1829,485.3 1845.7,484.6 1862.4,483.8 1879.1,483 1895.8,482.2 1912.5,481.4 1929.2,480.5 1946,479.6 1962.7,478.7 1979.4,477.7 1996.1,476.7 2012.8,475.6 2029.4,474.4 2046.1,473.2 2062.8,472 2079.5,470.6 2079.5,470.4 2062.8,470.6 2046,470.9 2029.3,471.3 2012.6,471.8 1995.8,472.3 1979.1,472.8 1962.4,473.4 1945.7,474.1 1929,474.8 1912.3,475.5 1895.5,476.3 1878.8,477 1862.1,477.8 1845.4,478.7 1828.7,479.5 1812,480.5 1795.3,481.7 1778.6,483 1762,484.5 1745.3,486.3" fill="#686868"/>
<polygon points="1745.3,674.1 1762.1,673.9 1778.9,673.4 1795.6,672.7 1812.3,671.8 1829.1,670.8 1845.8,669.6 1862.5,668.4 1879.2,667.2 1895.9,665.9 1912.6,664.7 1929.3,663.4 1946,662.1 1962.7,660.7 1979.4,659.3 1996.1,657.8 2012.8,656.3 2029.5,654.7 2046.2,653.1 2062.8,651.4 2079.5,649.6 2079.5,649.4 2062.7,650 2046,650.8 2029.3,651.6 2012.5,652.5 1995.8,653.4 1979.1,654.4 1962.3,655.5 1945.6,656.5 1928.9,657.7 1912.2,658.8 1895.5,660 1878.8,661.2 1862.1,662.4 1845.3,663.7 1828.6,665 1811.9,666.4 1795.3,668 1778.6,669.7 1761.9,671.7 1745.3,673.9" fill="#686868"/>
<polygon points="1740.2,860.3 2085,827.1 2084.6,822.1 1739.8,855.3" fill="#686868"/>
<polygon points="2082.5,294 2082.2,320.5 2081.8,347 2081.5,373.5 2081.3,400 2081,426.5 2080.8,453 2080.6,479.5 2080.5,506 2080.4,532.5 2080.3,559 2080.2,585.5 2080.1,612 2080.1,638.5 2080,665 2080,691.5 2080,718 2080,744.5 2080.1,771 2080.9,797.5 2082.5,824 2082.8,824 2084.5,797.5 2085.3,771 2085.4,744.5 2085.4,718 2085.4,691.5 2085.4,665 2085.3,638.5 2085.3,612 2085.2,585.5 2085.1,559 2085,532.5 2084.9,506 2084.8,479.5 2084.6,453 2084.4,426.5 2084.1,400 2083.9,373.5 2083.6,347 2083.2,320.5 2082.8,294" fill="#686868"/>
<polygon points="2094.2,294 2093.7,320.5 2093.3,347 2092.9,373.5 2092.5,400 2092.2,426.5 2091.9,453 2091.7,479.5 2091.5,506 2091.3,532.5 2091.1,559 2091,585.5 2090.9,612 2090.9,638.5 2090.8,665 2090.8,691.5 2090.8,718 2090.8,744.5 2091,771 2092,797.5 2094.2,824 2094.6,824 2096.8,797.5 2097.8,771 2098,744.5 2098,718 2098,691.5 2098,665 2097.9,638.5 2097.9,612 2097.8,585.5 2097.7,559 2097.5,532.5 2097.3,506 2097.1,479.5 2096.9,453 2096.6,426.5 2096.3,400 2095.9,373.5 2095.5,347 2095.1,320.5 2094.6,294" fill="#686868"/>
<line x1="2089" y1="294" x2="2089" y2="780" stroke="#686868" stroke-width="0.8" stroke-linecap="butt"/>
<line x1="2103.8" y1="294.5" x2="2103.8" y2="812" stroke="#686868" stroke-width="1.7" stroke-dasharray="12 11" stroke-dashoffset="0"/>
<line x1="2290.4" y1="290.2" x2="2290.4" y2="481" stroke="#686868" stroke-width="1.7" stroke-dasharray="12 11" stroke-dashoffset="0"/>
<polyline points="2103.9,489.9 2289.5,481.1 2412.9,517.7" fill="none" stroke="#686868" stroke-width="1.7" stroke-dasharray="12 11"/>
<line x1="2115.8" y1="541.6" x2="2412.9" y2="525.7" stroke="#686868" stroke-width="1.7" stroke-dasharray="12 11" stroke-dashoffset="0"/>
<line x1="2115.8" y1="552.2" x2="2412.9" y2="535" stroke="#686868" stroke-width="1.7" stroke-dasharray="12 11" stroke-dashoffset="0"/>
<line x1="2292.2" y1="543" x2="2292.2" y2="723.3" stroke="#686868" stroke-width="1.7" stroke-dasharray="12 11" stroke-dashoffset="0"/>
<polyline points="2103.9,741.9 2292.2,723.3 2412.9,769.7" fill="none" stroke="#686868" stroke-width="1.7" stroke-dasharray="12 11"/>
<polygon points="2096,817.7 2298.6,802.8 2407.7,794.3 2407.5,792.9 2298.4,800.4 2095.8,815.3" fill="#686868"/>
<polygon points="2412.8,284 2412.1,312.9 2411.6,341.8 2411.1,370.7 2410.8,399.6 2410.6,428.5 2410.5,457.4 2410.4,486.3 2410.4,515.2 2410.4,544.1 2410.4,573 2410.5,601.9 2410.6,630.8 2410.7,659.7 2410.9,688.6 2411.1,717.5 2411.4,746.4 2411.8,775.3 2412.2,804.2 2412.7,833.1 2413.4,862 2413.6,862 2414.2,833.1 2414.7,804.2 2415,775.3 2415.3,746.4 2415.6,717.5 2415.7,688.6 2415.9,659.7 2415.9,630.8 2416,601.9 2416,573 2415.9,544.1 2415.9,515.2 2415.8,486.3 2415.7,457.4 2415.5,428.5 2415.2,399.6 2414.8,370.7 2414.4,341.8 2413.8,312.9 2413,284" fill="#686868"/>
<polygon points="2408.3,796 2407.7,797.8 2407.2,799.6 2406.8,801.4 2406.5,803.2 2406.2,805 2406,806.8 2405.9,808.6 2405.8,810.4 2405.8,812.2 2405.8,814 2405.8,815.8 2405.8,817.6 2405.9,819.4 2406,821.2 2406.2,823 2406.5,824.8 2406.8,826.6 2407.2,828.4 2407.7,830.2 2408.3,832 2408.7,832 2409.3,830.2 2409.8,828.4 2410.2,826.6 2410.5,824.8 2410.8,823 2411,821.2 2411.1,819.4 2411.2,817.6 2411.2,815.8 2411.2,814 2411.2,812.2 2411.2,810.4 2411.1,808.6 2411,806.8 2410.8,805 2410.5,803.2 2410.2,801.4 2409.8,799.6 2409.3,797.8 2408.7,796" fill="#686868"/>
<path d="M 1224.8 280.5 L 2327.7 255.5 L 2425 263 C 2440 264.5 2446.5 268 2446.5 280 L 2446.5 842 C 2446.5 856 2432 864 2415 866 L 2411 866.5 L 2407.6 863 L 2407.6 836 L 1342 947 L 1342 983 C 1325 985.5 1310 986 1295 985.5 C 1278 984 1265 977 1258.5 966 L 1224.8 901.6 Z" fill="none" stroke="#686868" stroke-width="7.5" stroke-linejoin="miter" stroke-linecap="butt" />
<line x1="1222.6" y1="243" x2="1222.6" y2="279.3" stroke="#111" stroke-width="1.3" stroke-linecap="butt"/>
<line x1="1203.4" y1="279.3" x2="1222.6" y2="279.3" stroke="#111" stroke-width="1.3" stroke-linecap="butt"/>
<line x1="2327.7" y1="221" x2="2327.7" y2="253.3" stroke="#111" stroke-width="1.3" stroke-linecap="butt"/>
<line x1="2448.8" y1="233.8" x2="2448.8" y2="269.6" stroke="#111" stroke-width="1.3" stroke-linecap="butt"/>
<line x1="1203.2" y1="903.2" x2="1221.3" y2="901.6" stroke="#111" stroke-width="1.3" stroke-linecap="butt"/>
<line x1="1223.2" y1="242.9" x2="2327.7" y2="217.5" stroke="#ed1c24" stroke-width="7.4" stroke-linecap="butt"/>
<line x1="2327.7" y1="217.5" x2="2449.2" y2="230.5" stroke="#ed1c24" stroke-width="7.4" stroke-linecap="butt"/>
<line x1="1203.4" y1="279.3" x2="1203.4" y2="903.2" stroke="#ed1c24" stroke-width="7.4" stroke-linecap="butt"/>
<line x1="1356" y1="311" x2="1356" y2="593" stroke="#ed1c24" stroke-width="7.3" stroke-linecap="butt"/>
<line x1="1342" y1="594.4" x2="1726" y2="568.7" stroke="#ed1c24" stroke-width="7.3" stroke-linecap="butt"/>
<line x1="1624.2" y1="790.3" x2="1719.8" y2="850" stroke="#ed1c24" stroke-width="7.3" stroke-linecap="butt"/>
<line x1="2143.7" y1="550.9" x2="2143.7" y2="808.2" stroke="#ed1c24" stroke-width="7.3" stroke-linecap="butt"/>
<line x1="2105.2" y1="814" x2="2413.7" y2="783" stroke="#ed1c24" stroke-width="7.3" stroke-linecap="butt"/>
<g transform="translate(1723,219.9) rotate(-1.5)"><text x="-3.5" y="0" font-size="59.2" font-weight="bold" textLength="92.4" lengthAdjust="spacingAndGlyphs">168</text><text x="89" y="0" font-size="56.6" textLength="89.6" lengthAdjust="spacingAndGlyphs" stroke="#fff" stroke-width="0.9">cm</text></g>
<g transform="translate(2313.5,204.5) rotate(4)"><text x="-1.3" y="0" font-size="59.2" font-weight="bold" textLength="61.6" lengthAdjust="spacingAndGlyphs">39</text><text x="61.1" y="0" font-size="56.6" textLength="89.8" lengthAdjust="spacingAndGlyphs" stroke="#fff" stroke-width="0.9">cm</text></g>
<g transform="translate(1186.6,670.1) rotate(-90)"><text x="-1.7" y="0" font-size="57.7" font-weight="bold" textLength="60" lengthAdjust="spacingAndGlyphs">84</text><text x="59.7" y="0" font-size="56.6" textLength="89.2" lengthAdjust="spacingAndGlyphs" stroke="#fff" stroke-width="0.9">cm</text></g>
<g transform="translate(1375.7,382.2) rotate(90)"><text x="-1.2" y="0" font-size="57.7" font-weight="bold" textLength="60" lengthAdjust="spacingAndGlyphs">34</text><text x="61.6" y="0" font-size="56.6" textLength="88.7" lengthAdjust="spacingAndGlyphs" stroke="#fff" stroke-width="0.9">cm</text></g>
<g transform="translate(1464.3,572) rotate(-3.5)"><text x="-0.8" y="0" font-size="57.7" font-weight="bold" textLength="62.2" lengthAdjust="spacingAndGlyphs">48</text><text x="59.8" y="0" font-size="56.6" textLength="90.3" lengthAdjust="spacingAndGlyphs" stroke="#fff" stroke-width="0.9">cm</text></g>
<g transform="translate(1628,773) rotate(33)"><text x="-1.3" y="0" font-size="57.7" font-weight="bold" textLength="61.3" lengthAdjust="spacingAndGlyphs">33</text><text x="59.2" y="0" font-size="56.6" textLength="89.2" lengthAdjust="spacingAndGlyphs" stroke="#fff" stroke-width="0.9">cm</text></g>
<g transform="translate(2152.9,593.3) rotate(90)"><text x="-1.2" y="0" font-size="57.7" font-weight="bold" textLength="59.9" lengthAdjust="spacingAndGlyphs">34</text><text x="59.6" y="0" font-size="56.6" textLength="89.4" lengthAdjust="spacingAndGlyphs" stroke="#fff" stroke-width="0.9">cm</text></g>
<g transform="translate(2182.1,786.5) rotate(-3)"><text x="-0.8" y="0" font-size="57.7" font-weight="bold" textLength="62.3" lengthAdjust="spacingAndGlyphs">48</text><text x="60.9" y="0" font-size="56.6" textLength="89.2" lengthAdjust="spacingAndGlyphs" stroke="#fff" stroke-width="0.9">cm</text></g>
<path d="M 2082.3 1027.2 L 2116.9 1038.7 L 2260.7 954.7 L 2433.5 1051.7 L 2433.5 1112 L 2291.5 1194 L 2291.5 1229.2 L 2281.9 1231.5 L 2082.3 1113 Z" fill="#000" opacity="0.4" filter="url(#sh)" transform="translate(2,8)"/>
<path d="M 2082.3 1027.2 L 2116.9 1038.7 L 2260.7 954.7 L 2433.5 1051.7 L 2433.5 1112 L 2291.5 1194 L 2291.5 1229.2 L 2281.9 1231.5 L 2082.3 1113 Z" fill="#fff"/>
<polyline points="2119,1041.5 2260.7,961.4 2429,1056.1" fill="none" stroke="#686868" stroke-width="1.2" stroke-linejoin="miter"/>
<polyline points="2090,1031 2116.9,1040.5" fill="none" stroke="#686868" stroke-width="1" stroke-linejoin="miter"/>
<polygon points="2261.5,960 2261.1,962.6 2260.8,965.1 2260.6,967.7 2260.5,970.3 2260.3,972.8 2260.2,975.4 2260.2,978 2260.1,980.5 2260.1,983.1 2260.1,985.7 2260.2,988.2 2260.2,990.8 2260.2,993.4 2260.3,995.9 2260.4,998.5 2260.6,1001 2260.8,1003.6 2261,1006.2 2261.3,1008.7 2261.7,1011.3 2261.9,1011.3 2262.3,1008.7 2262.6,1006.2 2262.8,1003.6 2262.9,1001 2263.1,998.5 2263.2,995.9 2263.2,993.3 2263.3,990.8 2263.3,988.2 2263.3,985.6 2263.2,983.1 2263.2,980.5 2263.2,977.9 2263.1,975.4 2263,972.8 2262.8,970.3 2262.6,967.7 2262.4,965.1 2262.1,962.6 2261.7,960" fill="#686868"/>
<polyline points="2168.2,1065 2261.8,1011.3 2340,1058" fill="none" stroke="#686868" stroke-width="5" stroke-linejoin="miter"/>
<polygon points="2084.3,1034.2 2286.1,1144.1 2288.9,1138.9 2087.1,1029" fill="#686868"/>
<polygon points="2086.7,1037 2282.7,1146 2283.3,1145 2087.3,1036" fill="#686868"/>
<line x1="2280.2" y1="1147.7" x2="2280.2" y2="1228" stroke="#686868" stroke-width="1.2" stroke-linecap="butt"/>
<line x1="2288.8" y1="1140" x2="2288.8" y2="1196" stroke="#686868" stroke-width="3.5" stroke-linecap="butt"/>
<polygon points="2285.6,1137.3 2429.8,1060.5 2427.6,1056.3 2283.4,1133.1" fill="#686868"/>
<polygon points="2286.3,1130.5 2429,1057.3 2428.4,1056.3 2285.7,1129.5" fill="#686868"/>
<polygon points="2292.7,1162.5 2429.1,1087.3 2428.3,1085.9 2291.9,1161.1" fill="#686868"/>
<polygon points="2292.7,1175.1 2429.1,1098.3 2428.3,1096.9 2291.9,1173.7" fill="#686868"/>
<path d="M 2082.3 1027.2 L 2116.9 1038.7 L 2260.7 954.7 L 2433.5 1051.7 L 2433.5 1112 L 2291.5 1194 L 2291.5 1229.2 L 2281.9 1231.5 L 2082.3 1113 Z" fill="none" stroke="#686868" stroke-width="5.6" stroke-linejoin="round" stroke-linecap="butt" />
<line x1="2090.6" y1="1007" x2="2090.6" y2="1025" stroke="#111" stroke-width="1.3" stroke-linecap="butt"/>
<line x1="2261.4" y1="913" x2="2261.4" y2="958" stroke="#111" stroke-width="1.3" stroke-linecap="butt"/>
<line x1="2421.2" y1="1001.5" x2="2421.2" y2="1055.2" stroke="#111" stroke-width="1.3" stroke-linecap="butt"/>
<line x1="2090.1" y1="1007.1" x2="2261.4" y2="913" stroke="#ed1c24" stroke-width="6.8" stroke-linecap="butt"/>
<line x1="2261.4" y1="913" x2="2421.2" y2="1001.5" stroke="#ed1c24" stroke-width="6.8" stroke-linecap="butt"/>
<line x1="2333.1" y1="1001.9" x2="2333.1" y2="1052.9" stroke="#ed1c24" stroke-width="6.3" stroke-linecap="butt"/>
<g transform="translate(2098.5,986.2) rotate(-31)"><text x="-2" y="0" font-size="57.7" font-weight="bold" textLength="63.3" lengthAdjust="spacingAndGlyphs">28</text><text x="63.8" y="0" font-size="56.6" textLength="86" lengthAdjust="spacingAndGlyphs" stroke="#fff" stroke-width="0.9">cm</text></g>
<g transform="translate(2289.4,916) rotate(29.7)"><text x="-0.7" y="0" font-size="57.7" font-weight="bold" textLength="53.1" lengthAdjust="spacingAndGlyphs">41</text><text x="63.3" y="0" font-size="56.6" textLength="86" lengthAdjust="spacingAndGlyphs" stroke="#fff" stroke-width="0.9">cm</text></g>
<g transform="translate(2344.8,1009) rotate(90)"><text x="-3.3" y="0" font-size="57.7" font-weight="bold" textLength="58.5" lengthAdjust="spacingAndGlyphs">13</text><text x="57.5" y="0" font-size="56.6" textLength="88.7" lengthAdjust="spacingAndGlyphs" stroke="#fff" stroke-width="0.9">cm</text></g>
<line x1="1790.4" y1="771.6" x2="2081.2" y2="1070.6" stroke="#111" stroke-width="1.6" stroke-linecap="butt"/>
<path d="M 1264.3 1394.2 L 2415.5 1354 L 2532 1375 Q 2540.5 1377 2540.5 1386 L 2540.5 1752 C 2540.5 1762 2528 1767 2508 1770 L 2504 1770.5 L 2500 1767 L 2500 1740.2 L 1365.8 1843 L 1365.8 1880.5 C 1350 1882 1335 1883 1322 1883 C 1300 1882 1287 1874 1282.5 1861 L 1264.3 1795 Z" fill="#000" opacity="0.4" filter="url(#sh)" transform="translate(2,8)"/>
<path d="M 1264.3 1394.2 L 2415.5 1354 L 2532 1375 Q 2540.5 1377 2540.5 1386 L 2540.5 1752 C 2540.5 1762 2528 1767 2508 1770 L 2504 1770.5 L 2500 1767 L 2500 1740.2 L 1365.8 1843 L 1365.8 1880.5 C 1350 1882 1335 1883 1322 1883 C 1300 1882 1287 1874 1282.5 1861 L 1264.3 1795 Z" fill="#fff"/>
<polygon points="1280.6,1438 1280.3,1458.1 1279.9,1478.2 1279.7,1498.3 1279.4,1518.4 1279.2,1538.5 1279.1,1558.6 1279,1578.7 1278.9,1598.8 1278.8,1618.9 1278.8,1639 1278.8,1659.1 1278.8,1679.2 1278.8,1699.3 1278.8,1719.4 1278.9,1739.5 1279.1,1759.6 1279.3,1779.7 1279.7,1799.8 1280.1,1819.9 1280.6,1840 1281,1840 1281.5,1819.9 1281.9,1799.8 1282.3,1779.7 1282.5,1759.6 1282.7,1739.5 1282.8,1719.4 1282.8,1699.3 1282.8,1679.2 1282.8,1659.1 1282.8,1639 1282.8,1618.9 1282.7,1598.8 1282.6,1578.7 1282.5,1558.6 1282.4,1538.5 1282.2,1518.4 1281.9,1498.3 1281.7,1478.2 1281.3,1458.1 1281,1438" fill="#686868"/>
<polygon points="1364.2,1446 1363.7,1465.8 1363.3,1485.6 1362.9,1505.4 1362.6,1525.2 1362.4,1545 1362.2,1564.8 1362,1584.6 1361.9,1604.4 1361.8,1624.2 1361.8,1644 1361.8,1663.8 1361.8,1683.6 1361.8,1703.4 1361.8,1723.2 1362,1743 1362.2,1762.8 1362.5,1782.6 1362.9,1802.4 1363.5,1822.2 1364.2,1842 1364.6,1842 1365.3,1822.2 1365.9,1802.4 1366.3,1782.6 1366.6,1762.8 1366.8,1743 1367,1723.2 1367,1703.4 1367,1683.6 1367,1663.8 1367,1644 1367,1624.2 1366.9,1604.4 1366.8,1584.6 1366.6,1564.8 1366.4,1545 1366.2,1525.2 1365.9,1505.4 1365.5,1485.6 1365.1,1465.8 1364.6,1446" fill="#686868"/>
<polygon points="1268.2,1400.9 1278.9,1422.8 1280.7,1425.6 1283,1427.9 1285.6,1429.8 1288.7,1431.3 1292.1,1432.4 1296,1433.2 1300.3,1433.6 1305,1433.7 1560.1,1427.1 1740.1,1419.9 2200.1,1402.2 2500.1,1388.8 2530,1384.8 2530,1384 2499.9,1385.2 2199.9,1396.2 1739.9,1414.1 1559.9,1422.9 1305,1430.7 1300.4,1430.8 1296.3,1430.6 1292.7,1430.1 1289.4,1429.2 1286.6,1428.1 1284.1,1426.5 1282,1424.5 1280.1,1422.2 1268.8,1400.5" fill="#686868"/>
<polygon points="1268.2,1419.9 1271,1424.5 1274.8,1428.9 1279.9,1433 1286.5,1436.7 1294.8,1439.9 1304.9,1442.7 1317.2,1444.9 1331.8,1446.5 1560.1,1438.1 1740.1,1430 2200.1,1413.6 2480.1,1400.8 2508,1397.4 2508,1396.6 2479.9,1397.2 2199.9,1407.6 1739.9,1424.2 1559.9,1433.9 1331.8,1443.5 1317.5,1442.2 1305.4,1440.3 1295.4,1437.9 1287.3,1435 1280.8,1431.7 1275.7,1427.9 1271.8,1423.9 1268.8,1419.5" fill="#686868"/>
<polyline points="1365.8,1733.9 1713.4,1705.6 1761.1,1742.9" fill="none" stroke="#686868" stroke-width="1.7" stroke-dasharray="12 11"/>
<line x1="1713.4" y1="1441" x2="1713.4" y2="1705.6" stroke="#686868" stroke-width="1.7" stroke-dasharray="12 11" stroke-dashoffset="0"/>
<line x1="1762.3" y1="1430.9" x2="1762.3" y2="1740" stroke="#686868" stroke-width="1.7" stroke-dasharray="12 11" stroke-dashoffset="0"/>
<polygon points="1365.9,1793.2 1765.7,1759 1765.5,1756.6 1365.7,1790.8" fill="#686868"/>
<polygon points="1772.2,1428 1771.8,1444.2 1771.4,1460.4 1771.1,1476.6 1770.8,1492.8 1770.6,1509 1770.4,1525.2 1770.2,1541.4 1770.1,1557.6 1770.1,1573.8 1770,1590 1770,1606.2 1770,1622.4 1770,1638.6 1770.1,1654.8 1770.2,1671 1770.4,1687.2 1770.7,1703.4 1771.1,1719.6 1771.6,1735.8 1772.2,1752 1772.6,1752 1773.2,1735.8 1773.7,1719.6 1774.1,1703.4 1774.4,1687.2 1774.6,1671 1774.7,1654.8 1774.8,1638.6 1774.8,1622.4 1774.8,1606.2 1774.8,1590 1774.7,1573.8 1774.7,1557.6 1774.6,1541.4 1774.4,1525.2 1774.2,1509 1774,1492.8 1773.7,1476.6 1773.4,1460.4 1773,1444.2 1772.6,1428" fill="#686868"/>
<polygon points="1791.8,1426 1790.7,1442.3 1789.9,1458.6 1789.1,1474.9 1788.5,1491.2 1788.1,1507.5 1787.7,1523.8 1787.4,1540.1 1787.3,1556.4 1787.2,1572.7 1787.1,1589 1787.1,1605.3 1787.1,1621.6 1787.2,1637.9 1787.4,1654.2 1787.7,1670.5 1788.1,1686.8 1788.7,1703.1 1789.5,1719.4 1790.5,1735.7 1791.8,1752 1792.1,1752 1793.3,1735.7 1794.3,1719.4 1795.1,1703.1 1795.7,1686.8 1796.1,1670.5 1796.4,1654.2 1796.6,1637.9 1796.7,1621.6 1796.7,1605.3 1796.7,1589 1796.6,1572.7 1796.5,1556.4 1796.4,1540.1 1796.1,1523.8 1795.7,1507.5 1795.3,1491.2 1794.7,1474.9 1793.9,1458.6 1793.1,1442.3 1792.1,1426" fill="#686868"/>
<line x1="2091.9" y1="1417" x2="2091.9" y2="1675.2" stroke="#686868" stroke-width="1.7" stroke-dasharray="12 11" stroke-dashoffset="0"/>
<line x1="2148.1" y1="1417" x2="2148.1" y2="1710.6" stroke="#686868" stroke-width="1.7" stroke-dasharray="12 11" stroke-dashoffset="0"/>
<polyline points="1795.7,1698 2089.4,1675.2 2147.6,1710.6" fill="none" stroke="#686868" stroke-width="1.7" stroke-dasharray="12 11"/>
<polygon points="1795.9,1759.9 2155.4,1727 2155,1722.2 1795.5,1755.1" fill="#686868"/>
<polygon points="2156.3,1410 2155.9,1425.6 2155.5,1441.2 2155.2,1456.8 2154.9,1472.4 2154.7,1488 2154.5,1503.6 2154.3,1519.2 2154.2,1534.8 2154.2,1550.4 2154.1,1566 2154.1,1581.6 2154.1,1597.2 2154.1,1612.8 2154.2,1628.4 2154.3,1644 2154.5,1659.6 2154.8,1675.2 2155.2,1690.8 2155.7,1706.4 2156.3,1722 2156.7,1722 2157.3,1706.4 2157.8,1690.8 2158.2,1675.2 2158.5,1659.6 2158.7,1644 2158.8,1628.4 2158.9,1612.8 2158.9,1597.2 2158.9,1581.6 2158.9,1566 2158.8,1550.4 2158.8,1534.8 2158.7,1519.2 2158.5,1503.6 2158.3,1488 2158.1,1472.4 2157.8,1456.8 2157.5,1441.2 2157.1,1425.6 2156.7,1410" fill="#686868"/>
<polygon points="2170.2,1408 2169.8,1423.6 2169.4,1439.2 2169.1,1454.8 2168.8,1470.4 2168.6,1486 2168.4,1501.6 2168.2,1517.2 2168.1,1532.8 2168.1,1548.4 2168,1564 2168,1579.6 2168,1595.2 2168,1610.8 2168.1,1626.4 2168.2,1642 2168.4,1657.6 2168.7,1673.2 2169.1,1688.8 2169.6,1704.4 2170.2,1720 2170.6,1720 2171.2,1704.4 2171.7,1688.8 2172.1,1673.2 2172.4,1657.6 2172.6,1642 2172.7,1626.4 2172.8,1610.8 2172.8,1595.2 2172.8,1579.6 2172.8,1564 2172.7,1548.4 2172.7,1532.8 2172.6,1517.2 2172.4,1501.6 2172.2,1486 2172,1470.4 2171.7,1454.8 2171.4,1439.2 2171,1423.6 2170.6,1408" fill="#686868"/>
<polygon points="2175.2,1408 2174.8,1423.6 2174.4,1439.2 2174.1,1454.8 2173.8,1470.4 2173.6,1486 2173.4,1501.6 2173.2,1517.2 2173.1,1532.8 2173.1,1548.4 2173,1564 2173,1579.6 2173,1595.2 2173,1610.8 2173.1,1626.4 2173.2,1642 2173.4,1657.6 2173.7,1673.2 2174.1,1688.8 2174.6,1704.4 2175.2,1720 2175.6,1720 2176.2,1704.4 2176.7,1688.8 2177.1,1673.2 2177.4,1657.6 2177.6,1642 2177.7,1626.4 2177.8,1610.8 2177.8,1595.2 2177.8,1579.6 2177.8,1564 2177.7,1548.4 2177.7,1532.8 2177.6,1517.2 2177.4,1501.6 2177.2,1486 2177,1470.4 2176.7,1454.8 2176.4,1439.2 2176,1423.6 2175.6,1408" fill="#686868"/>
<line x1="2415.5" y1="1401.7" x2="2415.5" y2="1649.3" stroke="#686868" stroke-width="1.7" stroke-dasharray="12 11" stroke-dashoffset="0"/>
<line x1="2181.9" y1="1668.1" x2="2415.5" y2="1649.3" stroke="#686868" stroke-width="1.7" stroke-dasharray="12 11" stroke-dashoffset="0"/>
<polygon points="2177.1,1722.6 2389.1,1707.3 2503.3,1698.8 2503.1,1697 2388.9,1704.9 2176.9,1720.2" fill="#686868"/>
<polygon points="2506.3,1397 2505.7,1415.5 2505.3,1434.1 2504.9,1452.6 2504.5,1471.2 2504.3,1489.7 2504.1,1508.3 2503.9,1526.8 2503.7,1545.4 2503.6,1563.9 2503.6,1582.5 2503.5,1601 2503.5,1619.6 2503.5,1638.1 2503.5,1656.7 2503.7,1675.2 2503.9,1693.8 2504.2,1712.3 2504.6,1730.9 2505.1,1749.4 2505.9,1768 2506.1,1768 2506.9,1749.5 2507.5,1730.9 2508,1712.4 2508.3,1693.8 2508.5,1675.3 2508.7,1656.7 2508.8,1638.2 2508.8,1619.6 2508.8,1601.1 2508.8,1582.5 2508.8,1564 2508.7,1545.4 2508.6,1526.9 2508.5,1508.3 2508.3,1489.8 2508.1,1471.2 2507.8,1452.7 2507.5,1434.1 2507,1415.6 2506.5,1397" fill="#686868"/>
<polyline points="1765,1758.5 1772,1757.5 1772,1762 1790,1760.5 1796,1762" fill="none" stroke="#686868" stroke-width="2.5" stroke-linejoin="miter"/>
<polyline points="2155,1725 2170,1724 2176,1727" fill="none" stroke="#686868" stroke-width="2.5" stroke-linejoin="miter"/>
<path d="M 1264.3 1394.2 L 2415.5 1354 L 2532 1375 Q 2540.5 1377 2540.5 1386 L 2540.5 1752 C 2540.5 1762 2528 1767 2508 1770 L 2504 1770.5 L 2500 1767 L 2500 1740.2 L 1365.8 1843 L 1365.8 1880.5 C 1350 1882 1335 1883 1322 1883 C 1300 1882 1287 1874 1282.5 1861 L 1264.3 1795 Z" fill="none" stroke="#686868" stroke-width="7.5" stroke-linejoin="miter" stroke-linecap="butt" />
<line x1="1261.3" y1="1356" x2="1261.3" y2="1392.5" stroke="#111" stroke-width="1.3" stroke-linecap="butt"/>
<line x1="1232.3" y1="1393.5" x2="1261.3" y2="1392.5" stroke="#111" stroke-width="1.3" stroke-linecap="butt"/>
<line x1="2415.5" y1="1317" x2="2415.5" y2="1349.9" stroke="#111" stroke-width="1.3" stroke-linecap="butt"/>
<line x1="2542.4" y1="1347" x2="2542.4" y2="1379.7" stroke="#111" stroke-width="1.3" stroke-linecap="butt"/>
<line x1="1232" y1="1796.5" x2="1261.4" y2="1795" stroke="#111" stroke-width="1.3" stroke-linecap="butt"/>
<line x1="1262.8" y1="1356.2" x2="2415.5" y2="1313.9" stroke="#ed1c24" stroke-width="7.4" stroke-linecap="butt"/>
<line x1="2415.5" y1="1313.9" x2="2542.4" y2="1345.2" stroke="#ed1c24" stroke-width="7.4" stroke-linecap="butt"/>
<line x1="1232.3" y1="1394.4" x2="1232.3" y2="1796.6" stroke="#ed1c24" stroke-width="7.4" stroke-linecap="butt"/>
<line x1="1395.4" y1="1442.3" x2="1395.4" y2="1781.6" stroke="#ed1c24" stroke-width="7.3" stroke-linecap="butt"/>
<line x1="1364.4" y1="1786.1" x2="1761.1" y2="1752.4" stroke="#ed1c24" stroke-width="7.3" stroke-linecap="butt"/>
<line x1="1795.7" y1="1749.9" x2="2147.6" y2="1718.2" stroke="#ed1c24" stroke-width="7.3" stroke-linecap="butt"/>
<line x1="2177.2" y1="1715.1" x2="2508" y2="1688.5" stroke="#ed1c24" stroke-width="7.3" stroke-linecap="butt"/>
<line x1="2415.5" y1="1649.3" x2="2508" y2="1688.5" stroke="#ed1c24" stroke-width="7.3" stroke-linecap="butt"/>
<g transform="translate(1809.7,1321.3) rotate(-1.9)"><text x="-3.5" y="0" font-size="59.2" font-weight="bold" textLength="92.3" lengthAdjust="spacingAndGlyphs">168</text><text x="89.3" y="0" font-size="56.6" textLength="89.6" lengthAdjust="spacingAndGlyphs" stroke="#fff" stroke-width="0.9">cm</text></g>
<g transform="translate(2408.8,1298.7) rotate(12.5)"><text x="-1.3" y="0" font-size="57.7" font-weight="bold" textLength="60.7" lengthAdjust="spacingAndGlyphs">39</text><text x="61.5" y="0" font-size="56.6" textLength="87.8" lengthAdjust="spacingAndGlyphs" stroke="#fff" stroke-width="0.9">cm</text></g>
<g transform="translate(1215.2,1662.3) rotate(-90)"><text x="-1.7" y="0" font-size="57.7" font-weight="bold" textLength="62.3" lengthAdjust="spacingAndGlyphs">52</text><text x="60.5" y="0" font-size="56.6" textLength="89.2" lengthAdjust="spacingAndGlyphs" stroke="#fff" stroke-width="0.9">cm</text></g>
<g transform="translate(1412.1,1544.5) rotate(90)"><text x="-1.3" y="0" font-size="57.7" font-weight="bold" textLength="62.5" lengthAdjust="spacingAndGlyphs">38</text><text x="61.3" y="0" font-size="56.6" textLength="87.7" lengthAdjust="spacingAndGlyphs" stroke="#fff" stroke-width="0.9">cm</text></g>
<g transform="translate(1495.6,1756.5) rotate(-3.5)"><text x="-0.8" y="0" font-size="57.7" font-weight="bold" textLength="60.7" lengthAdjust="spacingAndGlyphs">48</text><text x="59.8" y="0" font-size="56.6" textLength="90.9" lengthAdjust="spacingAndGlyphs" stroke="#fff" stroke-width="0.9">cm</text></g>
<g transform="translate(1902,1723.5) rotate(-3.5)"><text x="-0.8" y="0" font-size="57.7" font-weight="bold" textLength="61.6" lengthAdjust="spacingAndGlyphs">47</text><text x="61.8" y="0" font-size="56.6" textLength="89.6" lengthAdjust="spacingAndGlyphs" stroke="#fff" stroke-width="0.9">cm</text></g>
<g transform="translate(2250.9,1695.5) rotate(-3.5)"><text x="-0.8" y="0" font-size="57.7" font-weight="bold" textLength="60.5" lengthAdjust="spacingAndGlyphs">48</text><text x="59.9" y="0" font-size="56.6" textLength="90.4" lengthAdjust="spacingAndGlyphs" stroke="#fff" stroke-width="0.9">cm</text></g>
<g transform="translate(2414.4,1628.3) rotate(26.1)"><text x="-1.2" y="0" font-size="57.7" font-weight="bold" textLength="58.3" lengthAdjust="spacingAndGlyphs">33</text><text x="60.1" y="0" font-size="56.6" textLength="88" lengthAdjust="spacingAndGlyphs" stroke="#fff" stroke-width="0.9">cm</text></g>
</svg></body></html>
